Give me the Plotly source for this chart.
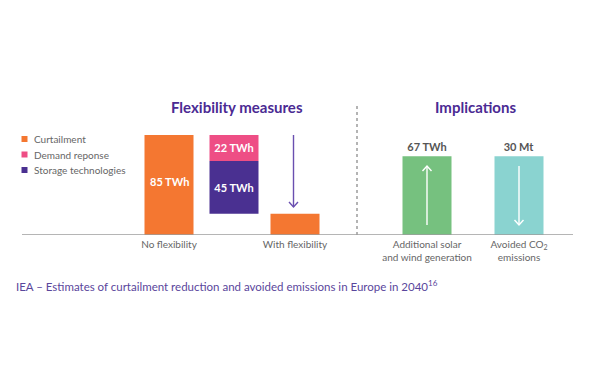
import plotly.graph_objects as go

# ---------------- data ----------------
categories = ["No flexibility", "Reduction", "With flexibility",
              "Additional solar<br>and wind generation", "Avoided CO<sub>2</sub><br>emissions"]
curtailment_cats = ["No flexibility", "With flexibility"]
curtailment_vals = [85, 18]          # TWh
demand_response = 22                 # TWh
storage = 45                         # TWh
additional_gen = 67                  # TWh
avoided_co2 = 30                     # Mt
legend_names = ["Curtailment", "Demand reponse", "Storage technologies"]

# ---------------- style / layout ----------------
W, H = 590, 380
C_ORANGE = "#F47731"
C_PINK = "#EE4E85"
C_PURPLE = "#4A3091"
C_GREEN = "#76C17F"
C_TEAL = "#8AD3D0"
C_TITLE = "#4B2A93"
C_GRAY = "#666666"
FONT = "Lato"

# slot centres along the x axis (axis units = pixels of the page width)
slot_x = dict(zip(categories, [169, 234, 295, 427, 519]))
BAR_W = 49
BASE_PX, TOP_PX = 235, 100           # baseline / top of plot area (page px)
PX_PER_UNIT = 100 / 85
y_top = (BASE_PX - TOP_PX) / PX_PER_UNIT
y_dom = [(H - BASE_PX) / H, (H - TOP_PX) / H]


def px(x):
    return x / W


def py(y):
    return 1 - y / H


def unit(pixels):
    return pixels / PX_PER_UNIT


fig = go.Figure()

bar_text_font = dict(family=FONT, size=11, color="white", weight="bold")

# curtailment (orange)
fig.add_trace(go.Bar(
    x=[slot_x[c] for c in curtailment_cats], y=curtailment_vals, width=BAR_W,
    marker=dict(color=C_ORANGE, line=dict(width=0)), name=legend_names[0],
    showlegend=False, hoverinfo="skip"))

# storage (purple) sits on top of the remaining curtailment
fig.add_trace(go.Bar(
    x=[slot_x["Reduction"]], y=[storage], base=[curtailment_vals[1]], width=BAR_W,
    marker=dict(color=C_PURPLE, line=dict(width=0)), name=legend_names[2],
    text=[f"{storage} TWh"], textposition="inside", insidetextanchor="middle",
    textfont=bar_text_font, showlegend=False, hoverinfo="skip"))

# demand response (pink) on top of storage
fig.add_trace(go.Bar(
    x=[slot_x["Reduction"]], y=[demand_response], base=[curtailment_vals[1] + storage],
    width=BAR_W, marker=dict(color=C_PINK, line=dict(width=0)), name=legend_names[1],
    text=[f"{demand_response} TWh"], textposition="inside", insidetextanchor="middle",
    textfont=bar_text_font, showlegend=False, hoverinfo="skip"))

out_font = dict(family=FONT, size=11, color="#555555", weight="bold")

# additional generation (green)
fig.add_trace(go.Bar(
    x=[slot_x[categories[3]]], y=[additional_gen], width=BAR_W,
    marker=dict(color=C_GREEN, line=dict(width=0)), text=[f"{additional_gen} TWh"],
    textposition="outside", textfont=out_font, cliponaxis=False,
    showlegend=False, hoverinfo="skip"))

# avoided CO2 (teal) on its own scale, drawn at the same height
fig.add_trace(go.Bar(
    x=[slot_x[categories[4]]], y=[avoided_co2], width=BAR_W, yaxis="y2",
    marker=dict(color=C_TEAL, line=dict(width=0)), text=[f"{avoided_co2} Mt"],
    textposition="outside", textfont=out_font, cliponaxis=False,
    showlegend=False, hoverinfo="skip"))

shapes = []
annotations = []

# label inside the "No flexibility" bar
annotations.append(dict(xref="x", yref="y", x=slot_x[curtailment_cats[0]],
                        y=curtailment_vals[0] * 0.54, text=f"{curtailment_vals[0]} TWh",
                        showarrow=False, xanchor="center", yanchor="middle",
                        font=bar_text_font))

# baseline
shapes.append(dict(type="line", xref="x", yref="y", x0=22, x1=573, y0=0, y1=0,
                   line=dict(color="#9C9C9C", width=1.5), layer="above"))
# dotted separator
shapes.append(dict(type="line", xref="x", yref="paper", x0=357, x1=357,
                   y0=py(BASE_PX), y1=py(103),
                   line=dict(color="#9C9C9C", width=1.5, dash="dot")))


def arrow(x, y_from, y_to, color, width=1.4):
    shapes.append(dict(type="line", xref="x", yref="y", x0=x, x1=x, y0=y_from, y1=y_to,
                       line=dict(color=color, width=width), layer="above"))
    d = -1 if y_to < y_from else 1
    hw, hh = 4.5, unit(5)
    shapes.append(dict(type="path", xref="x", yref="y", layer="above",
                       path=f"M{x - hw},{y_to - d * hh} L{x},{y_to} L{x + hw},{y_to - d * hh}",
                       line=dict(color=color, width=width)))


arrow(slot_x["With flexibility"] - 1.5, curtailment_vals[0], unit(BASE_PX - 207), "#6A4FB0")
arrow(slot_x[categories[3]], unit(10), unit(BASE_PX - 166), "white")
arrow(slot_x[categories[4]], unit(BASE_PX - 166), unit(10), "white")

# legend (manual, small squares)
legend_colors = [C_ORANGE, C_PINK, C_PURPLE]
for i, (nm, col) in enumerate(zip(legend_names, legend_colors)):
    yc = 139 + i * 15.5
    shapes.append(dict(type="rect", xref="paper", yref="paper",
                       x0=px(21.5), x1=px(27.5), y0=py(yc + 3), y1=py(yc - 3),
                       fillcolor=col, line=dict(width=0)))
    annotations.append(dict(xref="paper", yref="paper", x=px(32), y=py(yc),
                            text=nm, showarrow=False, xanchor="left", yanchor="middle",
                            font=dict(family=FONT, size=10, color=C_GRAY)))

# section titles
title_font = dict(family=FONT, size=15, color=C_TITLE, weight="bold")
annotations.append(dict(xref="x", yref="paper", x=237, y=py(107), text="Flexibility measures",
                        showarrow=False, xanchor="center", yanchor="middle", font=title_font))
annotations.append(dict(xref="x", yref="paper", x=475, y=py(107), text="Implications",
                        showarrow=False, xanchor="center", yanchor="middle", font=title_font))

# caption
annotations.append(dict(xref="paper", yref="paper", x=px(14), y=py(285),
                        text="IEA – Estimates of curtailment reduction and avoided emissions in Europe in 2040<sup>16</sup>",
                        showarrow=False, xanchor="left", yanchor="middle",
                        font=dict(family=FONT, size=11.5, color="#5A469C")))

tick_cats = [categories[0], categories[2], categories[3], categories[4]]

fig.update_layout(
    width=W, height=H, margin=dict(l=0, r=0, t=0, b=0),
    paper_bgcolor="white", plot_bgcolor="white", barmode="overlay",
    showlegend=False,
    xaxis=dict(domain=[0, 1], range=[0, W], showgrid=False, zeroline=False,
               showline=False, tickmode="array",
               tickvals=[slot_x[c] for c in tick_cats], ticktext=tick_cats,
               tickfont=dict(family=FONT, size=10, color=C_GRAY), ticks="",
               ticklabelstandoff=2, fixedrange=True),
    yaxis=dict(domain=y_dom, range=[0, y_top], visible=False, fixedrange=True),
    yaxis2=dict(domain=y_dom, range=[0, y_top * avoided_co2 / additional_gen],
                overlaying="y", visible=False, fixedrange=True),
    shapes=shapes, annotations=annotations,
)

fig.write_html("out.html", config={"displayModeBar": False},
               post_script="document.body.style.margin='0';document.body.style.overflow='hidden';")
